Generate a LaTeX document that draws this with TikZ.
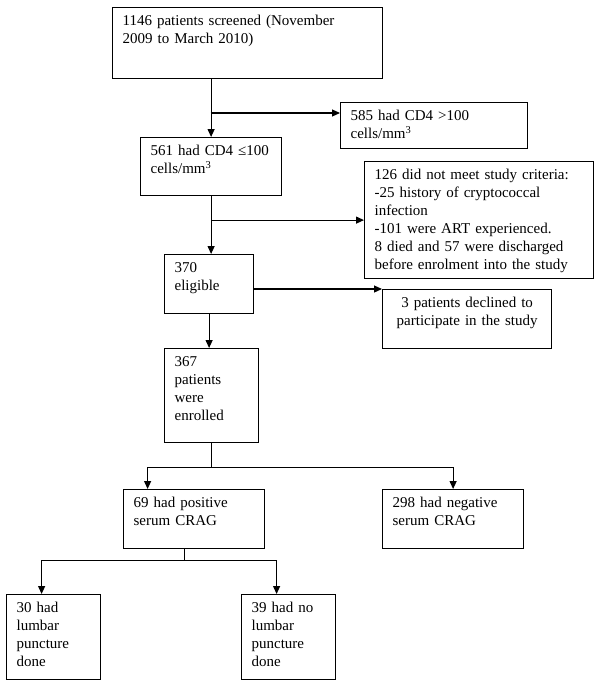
\documentclass[tikz,border=0pt]{standalone}
\usepackage{fontspec}
\setmainfont{Liberation Serif}
\usetikzlibrary{arrows.meta, positioning, calc}

\begin{document}
\begin{tikzpicture}[x=1pt, y=-1pt,
    box/.style={draw, line width=1.2pt, anchor=north west, align=left,
        inner xsep=10pt, inner ysep=7pt, text height=11pt,
        font=\fontsize{15pt}{18pt}\selectfont},
    link/.style={line width=1.2pt},
    flow/.style={link, -{Triangle[length=8pt, width=7pt]}}]
    \useasboundingbox (0,0) rectangle (600,685);

    \node[box, text width=250pt, text depth=46pt] (screen) at (112,7)
        {1146 patients screened (November\\2009 to March 2010)};
    \node[box, text width=167pt, text depth=21pt] (cdhigh) at (340,102)
        {585 had CD4 >100\\cells/mm\textsuperscript{3}};
    \node[box, text width=121pt, text depth=33pt] (cdlow) at (140,137)
        {561 had CD4 ≤100\\cells/mm\textsuperscript{3}};
    \node[box, text width=209pt, text depth=92pt] (excl) at (364,161)
        {126 did not meet study criteria:\\-25 history of cryptococcal\\infection\\-101 were ART experienced.\\8 died and 57 were discharged\\before enrolment into the study};
    \node[box, text width=69pt, text depth=34pt] (elig) at (164,254)
        {370\\eligible};
    \node[box, align=center, text width=149pt, text depth=34pt] (declined) at (382,289)
        {3 patients declined to\\participate in the study};
    \node[box, text width=74pt, text depth=69pt] (enrol) at (164,348)
        {367\\patients\\were\\enrolled};
    \node[box, text width=121pt, text depth=34pt] (pos) at (123,489)
        {69 had positive\\serum CRAG};
    \node[box, text width=121pt, text depth=34pt] (neg) at (382,489)
        {298 had negative\\serum CRAG};
    \node[box, text width=74pt, text depth=60pt] (lp) at (6,594)
        {30 had\\lumbar\\puncture\\done};
    \node[box, text width=74pt, text depth=60pt] (nolp) at (241,594)
        {39 had no\\lumbar\\puncture\\done};

    \coordinate (j1) at (210.5,113);
    \coordinate (j3) at ($(enrol.south)+(0,24)$);
    \coordinate (j4) at ($(pos.south)+(-10,11)$);

    \draw[flow] (screen.south -| cdlow.north) -- (cdlow.north);
    \draw[flow] (j1) -- (j1 -| cdhigh.west);
    \draw[flow] (cdlow.south) -- (cdlow.south |- elig.north);
    \draw[flow] (cdlow.south |- excl.west) -- (excl.west);
    \draw[flow] (elig.east |- declined.north) -- (declined.north west);
    \draw[flow] (elig.south) -- (elig.south |- enrol.north);
    \draw[link] (enrol.south) -- (j3);
    \draw[flow] (j3) -| (neg.north);
    \draw[flow] (j3) -| ([xshift=-46.5pt]pos.north);
    \draw[link] (j4 |- pos.south) -- (j4);
    \draw[flow] (j4) -| ([xshift=-12pt]lp.north);
    \draw[flow] (j4) -| ([xshift=-12pt]nolp.north);
\end{tikzpicture}
\end{document}
